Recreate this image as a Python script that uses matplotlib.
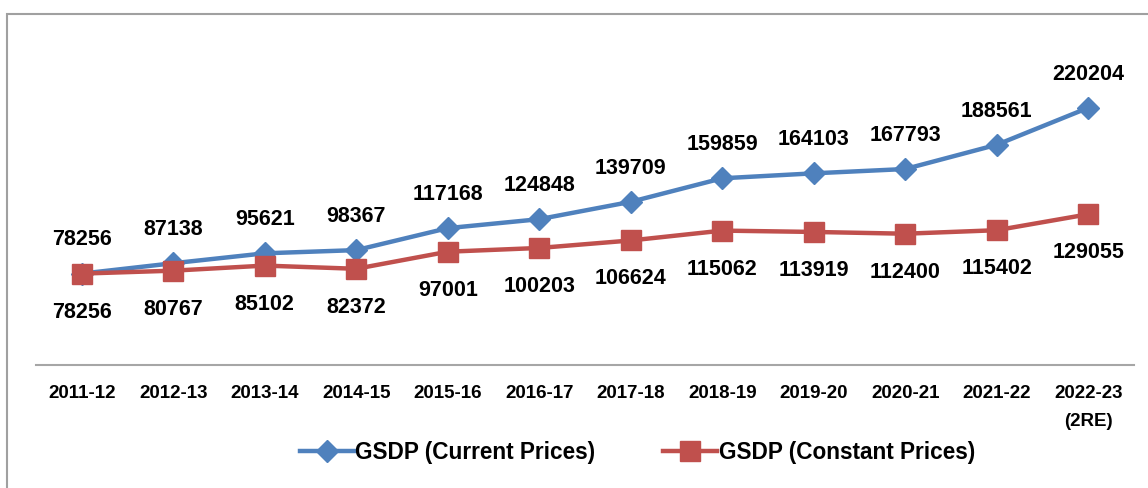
import matplotlib as mpl
mpl.use('Agg')
import matplotlib.pyplot as plt
from matplotlib.patches import Rectangle

years = ["2011-12", "2012-13", "2013-14", "2014-15", "2015-16", "2016-17",
         "2017-18", "2018-19", "2019-20", "2020-21", "2021-22", "2022-23\n(2RE)"]
current = [78256, 87138, 95621, 98367, 117168, 124848,
           139709, 159859, 164103, 167793, 188561, 220204]
constant = [78256, 80767, 85102, 82372, 97001, 100203,
            106624, 115062, 113919, 112400, 115402, 129055]

blue = '#4F81BD'
red = '#C0504D'
font = 'Liberation Sans'

fig = plt.figure(figsize=(11.48, 4.89), dpi=100)
ax = fig.add_axes([36/1148, 123/489, 1098/1148, 292/489])

x = list(range(len(years)))
ax.plot(x, current, color=blue, lw=3.2, marker='D', ms=11, label='GSDP (Current Prices)', zorder=3)
ax.plot(x, constant, color=red, lw=3.2, marker='s', ms=14, label='GSDP (Constant Prices)', zorder=4)

for i in x:
    ax.annotate(str(current[i]), (i, current[i]), xytext=(0, 25), textcoords='offset points',
                ha='center', va='center', fontsize=15.5, fontweight='bold', family=font)
    ax.annotate(str(constant[i]), (i, constant[i]), xytext=(0, -27), textcoords='offset points',
                ha='center', va='center', fontsize=15.5, fontweight='bold', family=font)

ax.set_xlim(-0.5, len(years) - 0.5)
ax.set_ylim(0, 250000)
ax.set_yticks([])
ax.set_xticks(x)
ax.set_xticklabels(years, fontsize=13.5, fontweight='bold', family=font, linespacing=1.8)
ax.tick_params(axis='x', length=0, pad=14)
for s in ['top', 'right', 'left']:
    ax.spines[s].set_visible(False)
ax.spines['bottom'].set_color('#a6a6a6')
ax.spines['bottom'].set_linewidth(1.5)

leg = fig.legend(loc='center', bbox_to_anchor=(0.555, 1 - 453/489), ncol=2, frameon=False,
                 prop={'family': font, 'weight': 'bold', 'size': 16.3},
                 handlelength=2.4, handletextpad=0.05, columnspacing=3.0)

# outer chart border (cut off at right and bottom like the reference)
fig.patches.append(Rectangle((7/1148, -0.05), 1.1, 1 - 15/489 + 0.05, transform=fig.transFigure,
                             fill=False, edgecolor='#a0a0a0', lw=1.5))

plt.savefig('out.png', dpi=100)
